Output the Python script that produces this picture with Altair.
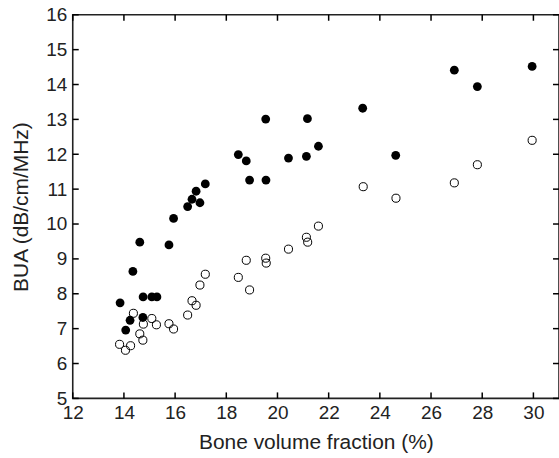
import altair as alt
import pandas as pd

# Filled circles
filled_x = [13.85, 14.07, 14.24, 14.35, 14.62, 14.75, 14.74, 15.09, 15.29, 15.76,
            15.94, 16.49, 16.66, 16.82, 16.97, 17.18, 18.47, 18.78, 18.91, 19.54,
            19.55, 20.43, 21.13, 21.17, 21.60, 23.33, 24.62, 26.91, 27.81, 29.95]
filled_y = [7.74, 6.96, 7.24, 8.64, 9.48, 7.91, 7.32, 7.91, 7.91, 9.40,
            10.16, 10.50, 10.71, 10.94, 10.61, 11.15, 11.99, 11.81, 11.26, 13.01,
            11.26, 11.89, 11.94, 13.02, 12.23, 13.32, 11.97, 14.41, 13.94, 14.52]

# Open circles
open_x = [13.83, 14.06, 14.26, 14.37, 14.62, 14.74, 14.76, 15.09, 15.27, 15.76,
          15.94, 16.49, 16.66, 16.82, 16.97, 17.18, 18.47, 18.78, 18.91, 19.54,
          19.56, 20.43, 21.13, 21.18, 21.60, 23.35, 24.63, 26.91, 27.81, 29.95]
open_y = [6.55, 6.38, 6.51, 7.44, 6.85, 6.67, 7.13, 7.29, 7.11, 7.14,
          6.99, 7.39, 7.80, 7.67, 8.25, 8.56, 8.47, 8.96, 8.11, 9.02,
          8.88, 9.28, 9.62, 9.48, 9.94, 11.07, 10.74, 11.18, 11.70, 12.40]

x_ticks = [12, 14, 16, 18, 20, 22, 24, 26, 28, 30]
y_ticks = [5, 6, 7, 8, 9, 10, 11, 12, 13, 14, 15, 16]

W, H = 488, 385
INK = "#222222"
FONT = "Liberation Sans"

df_f = pd.DataFrame({"x": filled_x, "y": filled_y})
df_o = pd.DataFrame({"x": open_x, "y": open_y})
df_xt = pd.DataFrame({"x": x_ticks})
df_yt = pd.DataFrame({"y": y_ticks})

xscale = alt.Scale(domain=[12, 31], nice=False, zero=False)
yscale = alt.Scale(domain=[5, 16], nice=False, zero=False)

xaxis = alt.Axis(values=x_ticks, ticks=False, domain=False, grid=False,
                 labelFontSize=19, labelFont=FONT, labelColor=INK, labelPadding=5,
                 labelOverlap=False, labelFlush=False,
                 title="Bone volume fraction (%)", titleFontSize=21, titleFont=FONT,
                 titleFontWeight="normal", titleColor=INK, titlePadding=9)
yaxis = alt.Axis(values=y_ticks, ticks=False, domain=False, grid=False,
                 labelFontSize=19, labelFont=FONT, labelColor=INK, labelPadding=6,
                 labelOverlap=False, labelFlush=False,
                 title="BUA (dB/cm/MHz)", titleFontSize=21, titleFont=FONT,
                 titleFontWeight="normal", titleColor=INK, titlePadding=14)

X = alt.X("x:Q", scale=xscale, axis=xaxis)
Y = alt.Y("y:Q", scale=yscale, axis=yaxis)

pts_f = alt.Chart(df_f).mark_point(filled=True, shape="circle", size=78,
                                   color="black", opacity=1).encode(x=X, y=Y)
pts_o = alt.Chart(df_o).mark_point(filled=False, shape="circle", size=66,
                                   color="black", strokeWidth=1, opacity=1).encode(x=X, y=Y)

TL = 6
tick_style = dict(color="black", strokeWidth=1.5, opacity=1)
bot = alt.Chart(df_xt).mark_rule(**tick_style).encode(
    x=X, y=alt.value(H), y2=alt.value(H - TL))
top = alt.Chart(df_xt).mark_rule(**tick_style).encode(
    x=X, y=alt.value(0), y2=alt.value(TL))
left = alt.Chart(df_yt).mark_rule(**tick_style).encode(
    y=Y, x=alt.value(0), x2=alt.value(TL))
right = alt.Chart(df_yt).mark_rule(**tick_style).encode(
    y=Y, x=alt.value(W), x2=alt.value(W - TL))

chart = alt.layer(pts_f, pts_o, bot, top, left, right).properties(
    width=W, height=H,
    autosize=alt.AutoSizeParams(type="none"),
    padding={"left": 73, "top": 14, "right": 0, "bottom": 59},
    background="white",
).configure_view(stroke=INK, strokeWidth=1.6)

chart.save("out.html", embed_options={"renderer": "svg", "actions": False})
